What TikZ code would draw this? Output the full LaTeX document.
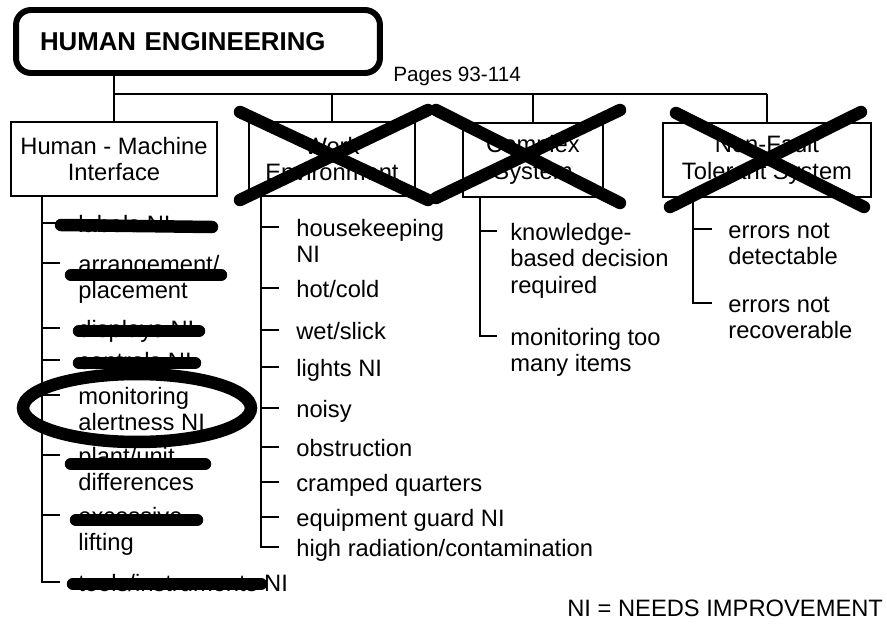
\documentclass[tikz,border=0pt]{standalone}
\usepackage{fontspec}
\setmainfont{Liberation Sans}
\usepackage{tikz}
\usetikzlibrary{positioning,calc}

% first line of a multi-line item sits on the node's base
\newcommand{\itemlines}[1]{\begin{tabular}[t]{@{}l@{}}#1\end{tabular}}

\tikzset{
	box/.style={draw, line width=0.9pt, align=center, minimum height=1.48cm, inner sep=0pt, font=\fontsize{13.5}{15.3}\selectfont},
	item/.style={anchor=base west, inner sep=0pt, font=\fontsize{13.5}{15.3}\selectfont},
	tree/.style={line width=1pt},
	blot/.style={line width=0.25cm, line cap=round},
}

\begin{document}
\begin{tikzpicture}[x=0.02cm,y=-0.02cm]
	\useasboundingbox (0,0) rectangle (887,626);
	\node (title) [draw, rounded corners=0.3cm, line width=3.4pt, minimum width=7.28cm, minimum height=1.26cm, inner xsep=0.48cm, text width=6.32cm, align=left, font=\fontsize{14.7}{17}\selectfont\bfseries] at (198,41.5) {HUMAN ENGINEERING};
	\node (pages) [anchor=base west, inner sep=0pt, font=\fontsize{11.8}{14}\selectfont] at (393,81) {Pages 93-114};
	\node (hmi) [box, minimum width=4.12cm] at (114,159) {Human - Machine\\Interface};
	\node (wenv) [box, minimum width=3.32cm] at (332,159) {Work\\Environment};
	\node (cplx) [box, minimum width=2.8cm] at (533,160) {Complex\\System};
	\node (nft) [box, minimum width=4.16cm] at (767,160) {Non-Fault\\Tolerant System};
	\coordinate (bus) at (0,94);
	\draw [tree] (title.south -| hmi.north) -- (hmi.north);
	\draw [tree] (hmi.north |- bus) -- (nft.north |- bus);
	\draw [tree] (wenv.north |- bus) -- (wenv.north);
	\draw [tree] (cplx.north |- bus) -- (cplx.north);
	\draw [tree] (nft.north |- bus) -- (nft.north);
	% human - machine interface
	\node (h1) [item] at (78,232) {labels NI};
	\node (h2) [item] at (78,272) {\itemlines{arrangement/\\placement}};
	\node (h3) [item] at (78,337) {displays NI};
	\node (h4) [item] at (78,369) {controls NI};
	\node (h5) [item] at (78,404) {\itemlines{monitoring\\alertness NI}};
	\node (h6) [item] at (78,464) {\itemlines{plant/unit\\differences}};
	\node (h7) [item] at (78,524) {\itemlines{excessive\\lifting}};
	\node (h8) [item] at (78,591) {tools/instruments NI};
	\coordinate (hsp) at (42,0);
	\draw [tree] (hmi.south -| hsp) -- ($(hsp |- h8.base)+(0,-9)$) -- ++(18,0);
	\foreach \i in {1,...,7}
		\draw [tree] ($(hsp |- h\i.base)+(0,-9)$) -- ++(18,0);
	% work environment
	\node (w1) [item] at (296,236) {\itemlines{housekeeping\\NI}};
	\node (w2) [item] at (296,297) {hot/cold};
	\node (w3) [item] at (296,339) {wet/slick};
	\node (w4) [item] at (296,376) {lights NI};
	\node (w5) [item] at (296,417) {noisy};
	\node (w6) [item] at (296,456) {obstruction};
	\node (w7) [item] at (296,491) {cramped quarters};
	\node (w8) [item] at (296,526) {equipment guard NI};
	\node (w9) [item] at (296,556) {high radiation/contamination};
	\coordinate (wsp) at (261,0);
	\draw [tree] (wenv.south -| wsp) -- ($(wsp |- w9.base)+(0,-9)$) -- ++(18,0);
	\foreach \i in {1,...,8}
		\draw [tree] ($(wsp |- w\i.base)+(0,-9)$) -- ++(18,0);
	% complex system
	\node (c1) [item] at (510,240) {\itemlines{knowledge-\\based decision\\required}};
	\node (c2) [item] at (510,345) {\itemlines{monitoring too\\many items}};
	\coordinate (csp) at (480,0);
	\draw [tree] (cplx.south -| csp) -- ($(csp |- c2.base)+(0,-9)$) -- ++(17,0);
	\draw [tree] ($(csp |- c1.base)+(0,-9)$) -- ++(17,0);
	% non-fault tolerant system
	\node (n1) [item] at (728,238) {\itemlines{errors not\\detectable}};
	\node (n2) [item] at (728,312) {\itemlines{errors not\\recoverable}};
	\coordinate (nsp) at (693,0);
	\draw [tree] (nft.south -| nsp) -- ($(nsp |- n2.base)+(0,-9)$) -- ++(19,0);
	\draw [tree] ($(nsp |- n1.base)+(0,-9)$) -- ++(19,0);
	% strike-outs
	\draw [blot] (61,225) -- (212,227);
	\draw [blot] (71,275) -- (221,275);
	\draw [blot] (79,331) -- (199,331);
	\draw [blot] (79,363) -- (195,363);
	\draw [blot] (71,464) -- (205,464);
	\draw [blot] (76,520) -- (197,520);
	\draw [blot] (73,584) -- (261,584);
	\draw [blot] (137,408) ellipse [x radius=2.28cm, y radius=0.68cm];
	\draw [blot] (240,112) -- (428,200);
	\draw [blot] (240,200) -- (428,110);
	\draw [blot] (436,110) -- (620,203);
	\draw [blot] (436,198) -- (620,110);
	\draw [blot] (676,113) -- (864,207);
	\draw [blot] (670,207) -- (861,112);
	\node (key) [anchor=base west, inner sep=0pt, font=\fontsize{13.5}{15.3}\selectfont] at (567,616) {NI = NEEDS IMPROVEMENT};
\end{tikzpicture}
\end{document}
